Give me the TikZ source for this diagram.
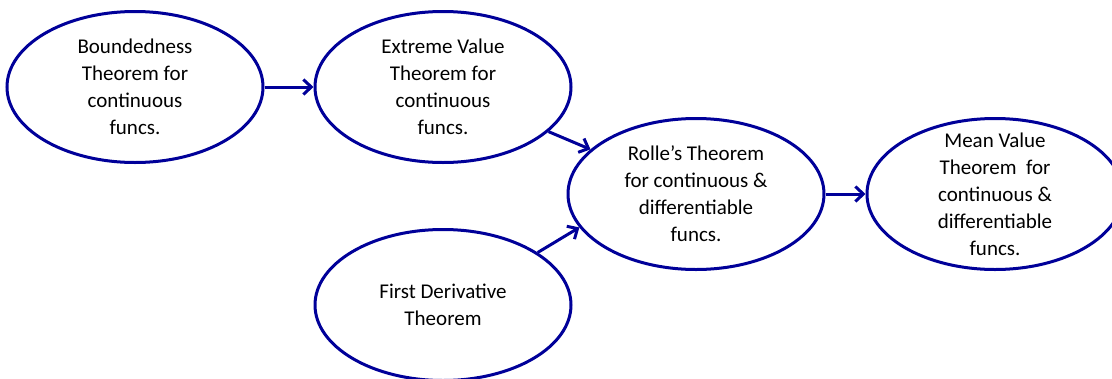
\documentclass[tikz,border=0pt]{standalone}
\usepackage{fontspec}
\setmainfont{Carlito}
\usepackage{tikz}
\usetikzlibrary{shapes.geometric, arrows.meta, positioning}

\definecolor{thmblue}{RGB}{0,0,153}
\newcommand{\thmfont}{\fontsize{21pt}{27pt}\selectfont}

\begin{document}
\begin{tikzpicture}[
  node distance=49pt,
  thm/.style={ellipse, draw=thmblue, line width=3pt, fill=white,
              minimum width=256pt, minimum height=151pt, inner sep=0pt},
  txt/.style={align=center, font=\thmfont, text=black},
  arrow/.style={-{Straight Barb[length=8pt, width=15pt]}, draw=thmblue,
                line width=3pt}
]
\useasboundingbox (0,0) rectangle (1112pt,-378pt);

% Top row: Boundedness -> Extreme Value
\node[thm, label={[txt]center:{Boundedness\\Theorem for\\continuous\\funcs.}}]
  (bnd) at (135pt,-87pt) {};
\node[thm, right=of bnd,
  label={[txt]center:{Extreme Value\\Theorem for\\continuous\\funcs.}}] (ext) {};

% First Derivative below
\node[thm, below=64pt of ext,
  label={[txt]center:{First Derivative\\Theorem}}] (fdt) {};

% Rolle and Mean Value
\node[thm, label={[txt]center:{Rolle’s Theorem\\for continuous \&\\differentiable\\funcs.}}]
  (rolle) at (696pt,-194pt) {};
\node[thm, right=40pt of rolle,
  label={[txt]center:{Mean Value\\Theorem~ for\\continuous \&\\differentiable\\funcs.}}] (mvt) {};

% Arrows
\draw[arrow] (bnd) -- (ext);
\draw[arrow] (ext) -- (rolle);
\draw[arrow] (fdt.29) -- (rolle.196);
\draw[arrow] (rolle) -- (mvt);

\end{tikzpicture}
\end{document}
